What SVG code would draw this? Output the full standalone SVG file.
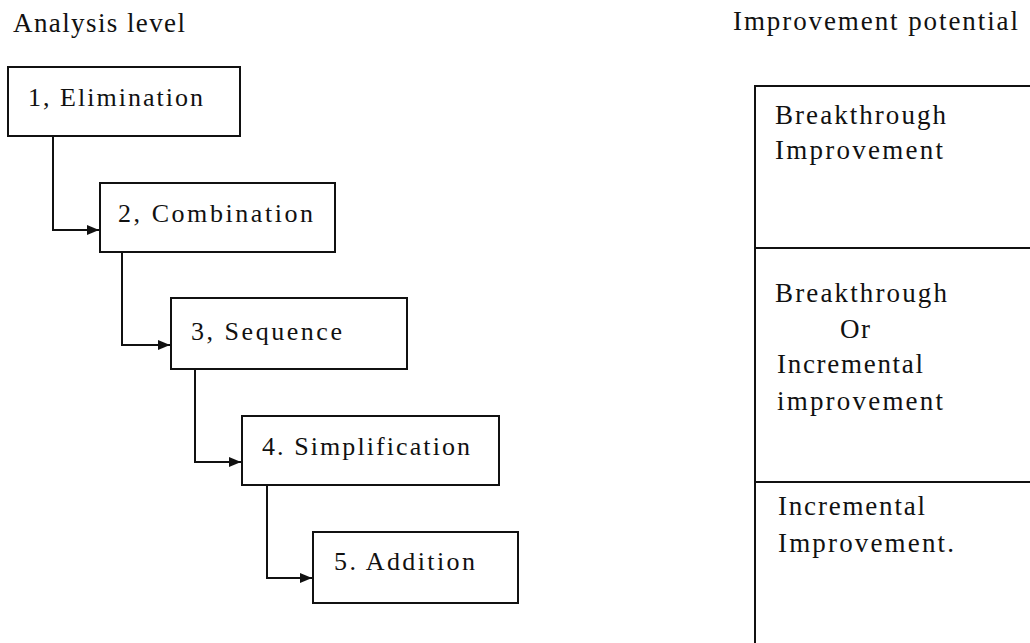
<svg xmlns="http://www.w3.org/2000/svg" width="1030" height="643" viewBox="0 0 1030 643">
  <defs>
    <style>
      .box { fill: #ffffff; stroke: #111111; stroke-width: 2; }
      .line { fill: none; stroke: #111111; stroke-width: 2; }
      .lbl { font-family: "Liberation Serif", "Times New Roman", serif; font-size: 26px; fill: #111111; }
      .side { font-family: "Liberation Serif", "Times New Roman", serif; font-size: 27px; fill: #111111; }
    </style>
    <marker id="arrow" viewBox="0 0 12 10" refX="12" refY="5" markerWidth="12" markerHeight="10" markerUnits="userSpaceOnUse" orient="auto">
      <path d="M0,0 L12,5 L0,10 Z" fill="#111111"/>
    </marker>
  </defs>
  <rect width="1030" height="643" fill="#ffffff"/>

  <!-- column headings -->
  <text id="head-left" class="side" x="13" y="32" textLength="172" lengthAdjust="spacing">Analysis level</text>
  <text id="head-right" class="side" x="733" y="30" textLength="285" lengthAdjust="spacing">Improvement potential</text>

  <!-- connectors between analysis levels -->
  <g id="connectors">
    <path class="line" d="M53,136 V230 H99" marker-end="url(#arrow)"/>
    <path class="line" d="M122,252 V345 H170" marker-end="url(#arrow)"/>
    <path class="line" d="M195,369 V462 H241" marker-end="url(#arrow)"/>
    <path class="line" d="M267,485 V578 H312" marker-end="url(#arrow)"/>
  </g>

  <!-- analysis levels -->
  <g id="level-1">
    <rect class="box" x="8" y="67" width="232" height="69"/>
    <text class="lbl" x="28" y="106" textLength="175" lengthAdjust="spacing">1, Elimination</text>
  </g>
  <g id="level-2">
    <rect class="box" x="100" y="183" width="235" height="69"/>
    <text class="lbl" x="118" y="222" textLength="195" lengthAdjust="spacing">2, Combination</text>
  </g>
  <g id="level-3">
    <rect class="box" x="171" y="298" width="236" height="71"/>
    <text class="lbl" x="191" y="340" textLength="151" lengthAdjust="spacing">3, Sequence</text>
  </g>
  <g id="level-4">
    <rect class="box" x="242" y="416" width="257" height="69"/>
    <text class="lbl" x="262" y="455" textLength="208" lengthAdjust="spacing">4. Simplification</text>
  </g>
  <g id="level-5">
    <rect class="box" x="313" y="532" width="205" height="71"/>
    <text class="lbl" x="334" y="570" textLength="141" lengthAdjust="spacing">5. Addition</text>
  </g>

  <!-- improvement potential column -->
  <g id="potential">
    <path class="line" d="M1035,86 H755 V645"/>
    <path class="line" d="M755,248 H1035"/>
    <path class="line" d="M755,482 H1035"/>
  </g>
  <g id="potential-breakthrough">
    <text class="side" x="775" y="124" textLength="171" lengthAdjust="spacing">Breakthrough</text>
    <text class="side" x="775" y="159" textLength="168" lengthAdjust="spacing">Improvement</text>
  </g>
  <g id="potential-either">
    <text class="side" x="775" y="302" textLength="172" lengthAdjust="spacing">Breakthrough</text>
    <text class="side" x="840" y="338" textLength="30" lengthAdjust="spacing">Or</text>
    <text class="side" x="777" y="373" textLength="146" lengthAdjust="spacing">Incremental</text>
    <text class="side" x="777" y="410" textLength="166" lengthAdjust="spacing">improvement</text>
  </g>
  <g id="potential-incremental">
    <text class="side" x="778" y="515" textLength="147" lengthAdjust="spacing">Incremental</text>
    <text class="side" x="778" y="552" textLength="176" lengthAdjust="spacing">Improvement.</text>
  </g>
</svg>
